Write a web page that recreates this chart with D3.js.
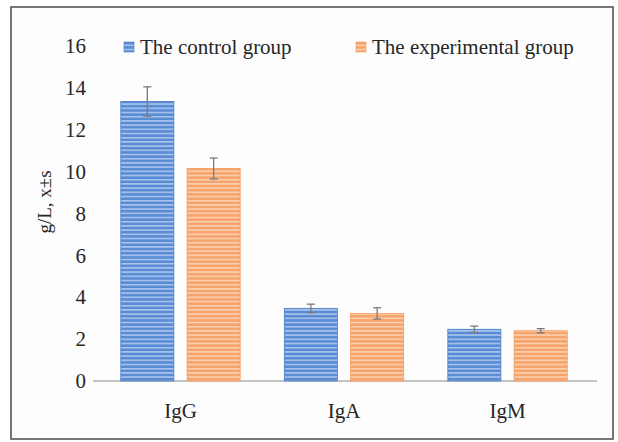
<!DOCTYPE html>
<html><head><meta charset="utf-8">
<script src="https://cdn.jsdelivr.net/npm/d3@7/dist/d3.min.js"></script>
<style>html,body{margin:0;padding:0;background:#fff;}</style>
</head><body>
<svg id="c" width="618" height="442"></svg>
<script>
const categories = ["IgG", "IgA", "IgM"];
const seriesNames = ["The control group", "The experimental group"];
const controlValues = [13.35, 3.47, 2.47];
const controlErrors = [0.7, 0.2, 0.15];
const experimentalValues = [10.15, 3.23, 2.4];
const experimentalErrors = [0.5, 0.27, 0.1];
const yTicks = [0, 2, 4, 6, 8, 10, 12, 14, 16];
const yTitle = "g/L, x±s";

const svg = d3.select("#c");
const W = 618, H = 442;
const m = {left: 93, right: 23, top: 46, bottom: 61};
const FONT = "'Liberation Serif', 'Times New Roman', serif";
const TXT = "#262626";

svg.append("rect").attr("x", 11).attr("y", 7).attr("width", 602).attr("height", 432)
  .attr("fill", "#fdfdfd").attr("stroke", "#555").attr("stroke-width", 1.6);

const defs = svg.append("defs");
const colors = [{base: "#5a8cd6", line: "#b3cbef", edge: "#4a7cc6"}, {base: "#f6a46c", line: "#fcd6ba", edge: "#f29a5c"}];
colors.forEach((c, i) => {
  const p = defs.append("pattern").attr("id", "pat" + i).attr("patternUnits", "userSpaceOnUse")
    .attr("width", 8).attr("height", 4.2);
  p.append("rect").attr("width", 8).attr("height", 4.2).attr("fill", c.base);
  p.append("rect").attr("y", 2.6).attr("width", 8).attr("height", 1.4).attr("fill", c.line);
});

const y = d3.scaleLinear().domain([0, 16]).range([H - m.bottom, m.top]);
const x0 = d3.scaleBand().domain(categories).range([m.left, W - m.right]).paddingInner(0.27).paddingOuter(0.17);
const x1 = d3.scaleBand().domain(seriesNames).range([0, x0.bandwidth()]).paddingInner(0.2);

const data = categories.map((c, i) => ({cat: c, vals: [
  {s: seriesNames[0], v: controlValues[i], e: controlErrors[i], k: 0},
  {s: seriesNames[1], v: experimentalValues[i], e: experimentalErrors[i], k: 1}]}));

// y tick labels
const ya = svg.append("g").attr("transform", `translate(${m.left - 7},0)`)
  .call(d3.axisLeft(y).tickValues(yTicks).tickSize(0).tickPadding(0));
ya.select(".domain").remove();
ya.selectAll("text").attr("font-family", FONT).attr("font-size", 21).attr("fill", TXT);

// baseline
svg.append("line").attr("x1", m.left).attr("x2", W - m.right + 2).attr("y1", y(0)).attr("y2", y(0))
  .attr("stroke", "#c4c4c4").attr("stroke-width", 2);

const g = svg.selectAll("g.grp").data(data).join("g").attr("class", "grp")
  .attr("transform", d => `translate(${x0(d.cat)},0)`);
g.selectAll("rect").data(d => d.vals).join("rect")
  .attr("x", d => x1(d.s)).attr("width", x1.bandwidth())
  .attr("y", d => y(d.v)).attr("height", d => y(0) - y(d.v))
  .attr("fill", d => `url(#pat${d.k})`).attr("stroke", d => colors[d.k].edge).attr("stroke-width", 0.8);

const eb = g.selectAll("g.eb").data(d => d.vals).join("g").attr("class", "eb")
  .attr("stroke", "#7a7a7a").attr("stroke-width", 1.3);
eb.append("line").attr("x1", d => x1(d.s) + x1.bandwidth() / 2).attr("x2", d => x1(d.s) + x1.bandwidth() / 2)
  .attr("y1", d => y(d.v - d.e)).attr("y2", d => y(d.v + d.e));
[-1, 1].forEach(sg => {
  eb.append("line").attr("x1", d => x1(d.s) + x1.bandwidth() / 2 - 4).attr("x2", d => x1(d.s) + x1.bandwidth() / 2 + 4)
    .attr("y1", d => y(d.v + sg * d.e)).attr("y2", d => y(d.v + sg * d.e));
});

// x labels
const xa = svg.append("g").attr("transform", `translate(0,${y(0)})`)
  .call(d3.axisBottom(x0).tickSize(0).tickPadding(22));
xa.select(".domain").remove();
xa.selectAll("text").attr("font-family", FONT).attr("font-size", 21).attr("fill", TXT);

// y title
svg.append("text").attr("transform", `translate(51,202) rotate(-90)`).attr("text-anchor", "middle")
  .attr("font-family", FONT).attr("font-size", 19).attr("fill", TXT).text(yTitle);

// legend
const legX = [124, 356];
seriesNames.forEach((s, i) => {
  svg.append("rect").attr("x", legX[i]).attr("y", 42).attr("width", 10).attr("height", 10)
    .attr("fill", `url(#pat${i})`).attr("stroke", colors[i].edge).attr("stroke-width", 0.6);
  svg.append("text").attr("x", legX[i] + 16).attr("y", 54)
    .attr("font-family", FONT).attr("font-size", 21).attr("fill", TXT).text(s);
});
</script>
</body></html>
